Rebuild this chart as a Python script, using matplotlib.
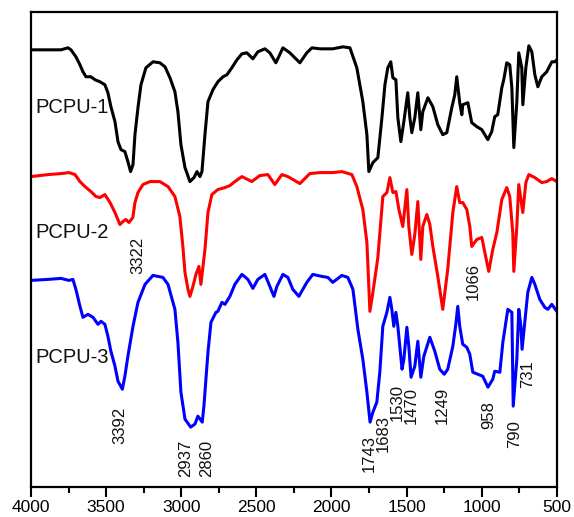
import matplotlib
matplotlib.use("Agg")
import matplotlib.pyplot as plt
from matplotlib.ticker import MultipleLocator

plt.rcParams['font.family'] = ['Liberation Sans', 'DejaVu Sans']

# FTIR spectra (wavenumber in cm^-1, transmittance in arbitrary offset units)
wn_1 = [4000, 3887, 3800, 3754, 3734, 3701, 3674, 3654, 3634, 3601, 3574, 3541, 3508, 3488,
        3468, 3441, 3421, 3401, 3375, 3355, 3337, 3321, 3308, 3288, 3268, 3235, 3188, 3142,
        3108, 3075, 3042, 3022, 3002, 2975, 2942, 2915, 2895, 2875, 2862, 2842, 2822, 2789,
        2756, 2722, 2696, 2663, 2629, 2596, 2563, 2523, 2490, 2443, 2410, 2370, 2323, 2277,
        2210, 2164, 2130, 2077, 1991, 1924, 1877, 1831, 1791, 1764, 1751, 1724, 1691, 1664,
        1644, 1625, 1605, 1591, 1571, 1558, 1538, 1518, 1492, 1478, 1465, 1445, 1425, 1405,
        1392, 1358, 1325, 1292, 1259, 1232, 1199, 1179, 1166, 1146, 1132, 1126, 1092, 1066,
        1032, 999, 959, 933, 913, 893, 866, 853, 833, 813, 799, 786, 766, 753, 733, 726, 706,
        686, 666, 646, 626, 600, 567, 533, 513, 500]
t_1 = [438, 438, 438, 440, 438, 431, 423, 416, 411, 411, 408, 406, 403, 395,
       381, 366, 346, 338, 336, 326, 316, 323, 353, 380, 403, 420, 426, 425,
       421, 410, 396, 376, 343, 320, 306, 310, 316, 311, 316, 353, 386, 398,
       406, 411, 413, 420, 428, 434, 435, 429, 436, 439, 435, 425, 440, 435,
       425, 435, 440, 439, 439, 441, 440, 420, 386, 353, 316, 325, 330, 370,
       403, 420, 426, 410, 408, 370, 346, 366, 395, 370, 355, 370, 395, 358,
       376, 390, 381, 363, 353, 355, 380, 393, 411, 385, 373, 383, 385, 365,
       361, 358, 348, 356, 371, 373, 400, 408, 425, 423, 400, 340, 386, 435, 420, 383, 420,
       442, 436, 413, 401, 411, 416, 426, 426, 428]

wn_2 = [4000, 3887, 3800, 3747, 3707, 3674, 3641, 3601, 3567, 3541, 3508, 3474, 3441, 3408,
        3388, 3368, 3348, 3322, 3308, 3288, 3255, 3208, 3142, 3088, 3042, 3009, 2989, 2975,
        2955, 2942, 2922, 2902, 2882, 2869, 2842, 2822, 2796, 2756, 2709, 2676, 2643, 2596,
        2530, 2477, 2423, 2377, 2330, 2290, 2210, 2144, 2077, 1991, 1931, 1864, 1831, 1791,
        1764, 1744, 1724, 1691, 1658, 1631, 1611, 1591, 1571, 1551, 1525, 1498, 1485, 1465,
        1445, 1425, 1405, 1392, 1365, 1345, 1325, 1292, 1259, 1226, 1192, 1166, 1146, 1126,
        1099, 1079, 1066, 1032, 999, 979, 953, 926, 899, 866, 833, 813, 793, 786, 766, 753,
        726, 706, 686, 646, 600, 567, 533, 500]
t_2 = [311, 313, 314, 315, 313, 306, 301, 296, 291, 290, 293, 285, 275, 263,
       266, 268, 265, 270, 285, 295, 303, 306, 306, 301, 291, 271, 241, 215,
       198, 191, 201, 213, 221, 203, 238, 275, 293, 298, 300, 302, 306, 311,
       306, 312, 313, 303, 313, 311, 304, 314, 315, 315, 316, 313, 301, 278,
       245, 176, 195, 230, 291, 295, 310, 295, 296, 278, 261, 298, 261, 233,
       253, 286, 228, 261, 273, 263, 241, 211, 178, 218, 275, 301, 285, 285,
       278, 261, 241, 248, 250, 235, 216, 238, 255, 288, 300, 291, 255, 216, 261, 303,
       275, 305, 313, 310, 305, 306, 309, 306]

wn_3 = [4000, 3887, 3800, 3747, 3721, 3701, 3674, 3654, 3621, 3587, 3554, 3534, 3508, 3488,
        3468, 3441, 3421, 3392, 3375, 3355, 3321, 3288, 3241, 3188, 3122, 3088, 3042, 3022,
        3002, 2975, 2937, 2909, 2889, 2860, 2849, 2822, 2802, 2769, 2756, 2729, 2709, 2676,
        2643, 2596, 2556, 2523, 2490, 2443, 2410, 2383, 2363, 2323, 2290, 2257, 2217, 2164,
        2124, 2064, 2024, 1991, 1931, 1891, 1857, 1824, 1791, 1764, 1743, 1724, 1698, 1678,
        1658, 1631, 1611, 1598, 1585, 1571, 1558, 1530, 1518, 1498, 1485, 1470, 1445, 1425,
        1405, 1385, 1345, 1312, 1279, 1249, 1226, 1192, 1172, 1159, 1146, 1126, 1099, 1079,
        1059, 1026, 993, 958, 926, 913, 879, 859, 826, 799, 790, 766, 753, 739, 731, 713,
        693, 666, 646, 613, 580, 560, 533, 500]
t_3 = [207, 208, 209, 207, 208, 198, 181, 170, 173, 170, 163, 166, 163, 151,
       136, 121, 106, 98, 111, 131, 161, 185, 203, 212, 210, 203, 178, 145,
       95, 68, 60, 63, 71, 65, 81, 135, 165, 175, 176, 185, 183, 191,
       203, 213, 208, 199, 208, 213, 201, 191, 201, 213, 210, 198, 191, 205,
       213, 211, 210, 205, 212, 210, 198, 158, 128, 95, 65, 75, 85, 115,
       161, 175, 190, 178, 161, 175, 161, 118, 128, 160, 141, 110, 121, 146,
       110, 131, 150, 136, 118, 113, 118, 141, 163, 181, 161, 143, 140, 133,
       115, 113, 111, 100, 108, 116, 115, 145, 178, 175, 81, 128, 178, 161, 138, 165,
       195, 210, 203, 188, 180, 178, 183, 176]

series_names = ["PCPU-1", "PCPU-2", "PCPU-3"]
series_colors = ["#000000", "#ff0000", "#0000ff"]

# Peak annotations: text, x (cm^-1), y
peak_text = ["3322", "3392", "2937", "2860", "1743", "1683", "1530",
             "1470", "1249", "1066", "958", "790", "731"]
peak_x = [3288, 3408, 2969, 2829, 1751, 1658, 1562,
          1468, 1265, 1059, 953, 780, 693]
peak_y = [232, 62, 29, 29, 34, 54, 85,
          82, 82, 206, 72, 53, 113]

name_y = [380, 255, 130]

fig = plt.figure(figsize=(5.74, 5.17), dpi=100)
ax = fig.add_axes([0.054, 0.058, 0.916, 0.919])

for wn, t, c in zip([wn_1, wn_2, wn_3], [t_1, t_2, t_3], series_colors):
    ax.plot(wn, t, color=c, lw=2.2, solid_joinstyle='round', solid_capstyle='round')

for name, y in zip(series_names, name_y):
    ax.text(3973, y, name, fontsize=14.5, ha='left', va='center', color='#111111')

for s, x, y in zip(peak_text, peak_x, peak_y):
    ax.text(x, y, s, rotation=90, fontsize=12, ha='center', va='center', color='#111111')

ax.set_xlim(4000, 500)
ax.set_ylim(0, 476)
ax.xaxis.set_major_locator(MultipleLocator(500))
ax.xaxis.set_minor_locator(MultipleLocator(250))
ax.tick_params(axis='x', which='major', direction='out', length=7, width=1.5,
               labelsize=12.5, pad=2)
ax.tick_params(axis='x', which='minor', direction='out', length=4, width=1.5)
ax.set_yticks([])
for sp in ax.spines.values():
    sp.set_linewidth(1.6)

fig.savefig("out.png", dpi=100)
